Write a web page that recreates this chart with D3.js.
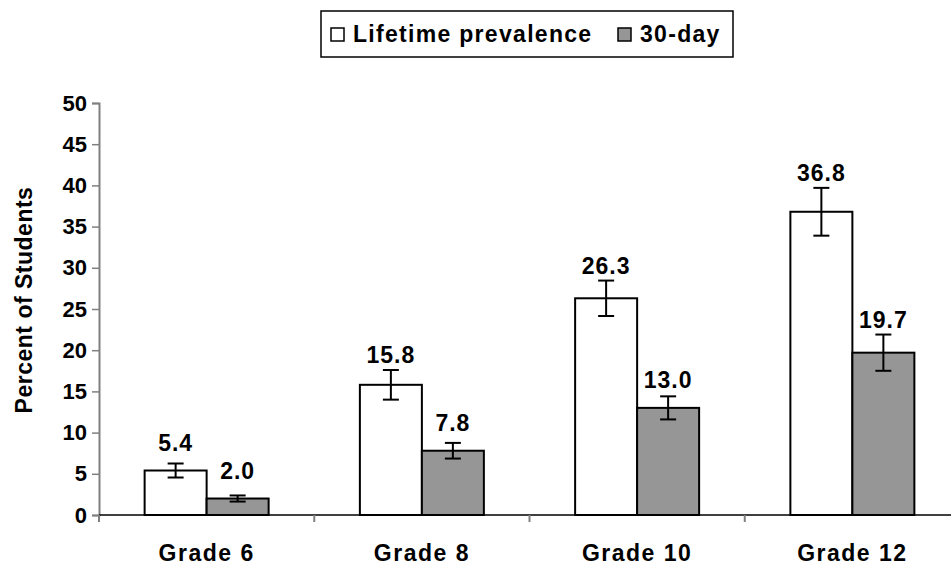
<!DOCTYPE html>
<html>
<head>
<meta charset="utf-8">
<script src="https://cdn.jsdelivr.net/npm/d3@7"></script>
<style>
  body { margin: 0; background: #fff; }
  text { font-family: Arial, "Liberation Sans", sans-serif; font-weight: bold; fill: #000; }
</style>
</head>
<body>
<script>
var svg_width = 951;
var svg_height = 565;

var grades = ['Grade 6', 'Grade 8', 'Grade 10', 'Grade 12'];
var seriesNames = ['Lifetime prevalence', '30-day'];
var seriesColors = ['#ffffff', '#969696'];
var lifetime = [5.4, 15.8, 26.3, 36.8];
var thirtyDay = [2.0, 7.8, 13.0, 19.7];
// error bar half widths
var lifetimeErr = [0.85, 1.8, 2.15, 2.9];
var thirtyDayErr = [0.37, 0.95, 1.4, 2.2];
var yTicks = [0, 5, 10, 15, 20, 25, 30, 35, 40, 45, 50];

var plotLeft = 99, plotTop = 103, plotBottom = 515, plotRight = 960;

var svg = d3.select('body').append('svg')
            .attr('width', svg_width)
            .attr('height', svg_height);

var xscale = d3.scaleBand().domain(grades).range([plotLeft, plotRight]);
var x1 = d3.scaleBand().domain(seriesNames).range([0, 124]);
var groupOffset = (xscale.bandwidth() - 124) / 2;
var yscale = d3.scaleLinear().domain([0, 50]).range([plotBottom, plotTop]);

var rows = [];
grades.forEach(function(g, i) {
  rows.push({grade: g, s: 0, value: lifetime[i], err: lifetimeErr[i]});
  rows.push({grade: g, s: 1, value: thirtyDay[i], err: thirtyDayErr[i]});
});

// y axis
var yaxis = d3.axisLeft(yscale).tickValues(yTicks).tickSize(7).tickPadding(5).tickFormat(d3.format('d'));
var gy = svg.append('g').attr('transform', 'translate(' + plotLeft + ',0)').call(yaxis);
gy.select('.domain').attr('stroke', '#808080').attr('stroke-width', 2);
gy.selectAll('.tick line').attr('stroke', '#808080').attr('stroke-width', 1.5);
gy.selectAll('.tick text').style('font-size', '22px').attr('fill', '#000')
  .attr('font-family', 'Arial, "Liberation Sans", sans-serif').attr('font-weight', 'bold');

// bars
svg.selectAll('rect.bar').data(rows).enter().append('rect')
  .attr('class', 'bar')
  .attr('x', function(d) { return xscale(d.grade) + groupOffset + x1(seriesNames[d.s]); })
  .attr('width', x1.bandwidth())
  .attr('y', function(d) { return yscale(d.value); })
  .attr('height', function(d) { return plotBottom - yscale(d.value); })
  .attr('fill', function(d) { return seriesColors[d.s]; })
  .attr('stroke', '#000')
  .attr('stroke-width', 2);

// x axis line + ticks
svg.append('line').attr('x1', plotLeft).attr('x2', svg_width).attr('y1', plotBottom).attr('y2', plotBottom)
  .attr('stroke', '#000').attr('stroke-width', 1.5);
var bounds = grades.map(function(g) { return xscale(g); }).concat([plotRight]);
svg.selectAll('line.xtick').data(bounds).enter().append('line')
  .attr('x1', function(d) { return d; }).attr('x2', function(d) { return d; })
  .attr('y1', plotBottom).attr('y2', plotBottom + 7)
  .attr('stroke', '#808080').attr('stroke-width', 2);
svg.selectAll('text.xlab').data(grades).enter().append('text')
  .attr('x', function(d) { return xscale(d) + xscale.bandwidth() / 2; })
  .attr('y', 561)
  .attr('text-anchor', 'middle')
  .style('font-size', '23px')
  .style('letter-spacing', '1.5px')
  .text(function(d) { return d; });

// error bars
var eb = svg.selectAll('g.err').data(rows).enter().append('g')
  .attr('transform', function(d) {
    return 'translate(' + (xscale(d.grade) + groupOffset + x1(seriesNames[d.s]) + x1.bandwidth() / 2) + ',0)';
  });
eb.append('line').attr('x1', 0).attr('x2', 0)
  .attr('y1', function(d) { return yscale(d.value + d.err); })
  .attr('y2', function(d) { return yscale(d.value - d.err); })
  .attr('stroke', '#000').attr('stroke-width', 2);
eb.append('line').attr('x1', -8).attr('x2', 8)
  .attr('y1', function(d) { return yscale(d.value + d.err); })
  .attr('y2', function(d) { return yscale(d.value + d.err); })
  .attr('stroke', '#000').attr('stroke-width', 2);
eb.append('line').attr('x1', -8).attr('x2', 8)
  .attr('y1', function(d) { return yscale(d.value - d.err); })
  .attr('y2', function(d) { return yscale(d.value - d.err); })
  .attr('stroke', '#000').attr('stroke-width', 2);

// value labels
eb.append('text')
  .attr('x', 0)
  .attr('y', function(d) { return Math.min(yscale(d.value) - 20, yscale(d.value + d.err) - 7); })
  .attr('text-anchor', 'middle')
  .style('font-size', '23px')
  .style('letter-spacing', '1px')
  .text(function(d) { return d.value.toFixed(1); });

// y title
svg.append('text')
  .attr('transform', 'translate(32,300) rotate(-90)')
  .attr('text-anchor', 'middle')
  .style('font-size', '23px')
  .style('letter-spacing', '0.5px')
  .text('Percent of Students');

// legend
var lg = svg.append('g');
lg.append('rect').attr('x', 321).attr('y', 11).attr('width', 412).attr('height', 46)
  .attr('fill', '#fff').attr('stroke', '#000').attr('stroke-width', 1.5);
var legX = [331, 618];
seriesNames.forEach(function(name, i) {
  lg.append('rect').attr('x', legX[i]).attr('y', 28).attr('width', 13).attr('height', 13)
    .attr('fill', seriesColors[i]).attr('stroke', '#000').attr('stroke-width', 1.5);
  lg.append('text').attr('x', legX[i] + 22).attr('y', 42)
    .style('font-size', '23px')
    .style('letter-spacing', '1.3px')
    .text(name);
});
</script>
</body>
</html>
